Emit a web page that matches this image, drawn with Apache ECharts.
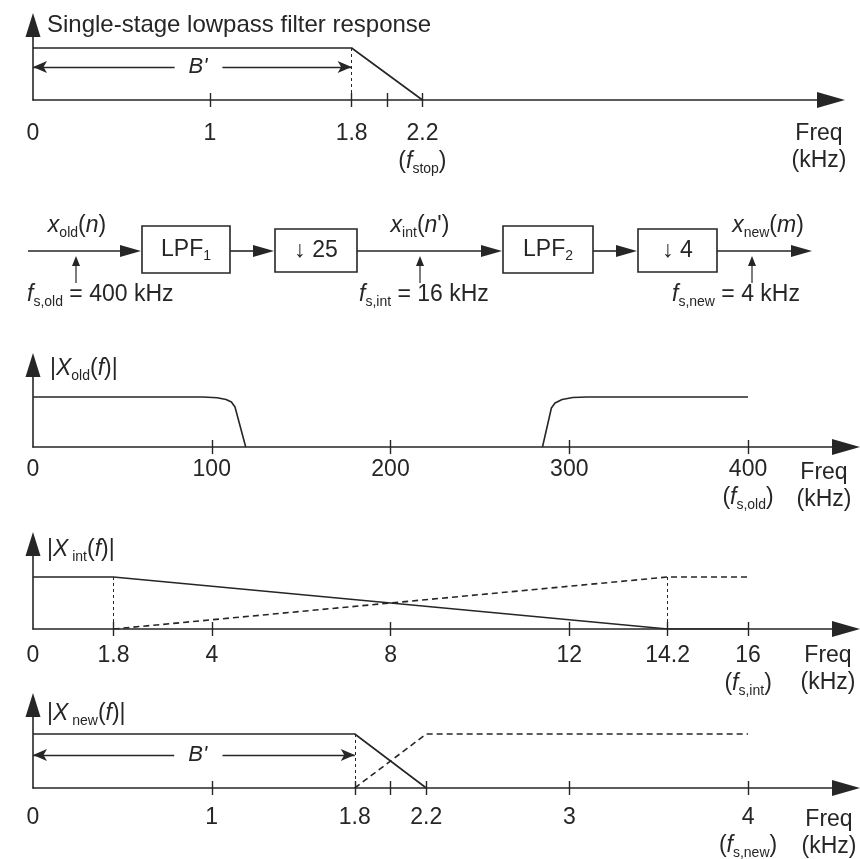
<!DOCTYPE html>
<html>
<head>
<meta charset="utf-8">
<script src="https://cdn.jsdelivr.net/npm/echarts@6/dist/echarts.min.js"></script>
<style>
  html, body { margin: 0; background: #fff; }
  #chart { width: 860px; height: 859px; }
</style>
</head>
<body>
<div id="chart"></div>
<script>
// single-stage lowpass response (kHz)
const respFreq = [0, 1.8, 2.2];
const respGain = [1, 1, 0];
const respTicks = [1, 1.8, 2, 2.2];
const respLabels = [0, 1, 1.8, 2.2];

// |X_old(f)| (kHz)
const oldFreqLow = [0, 95, 103, 108, 111, 113, 119];
const oldGainLow = [1, 1, 0.985, 0.95, 0.9, 0.8, 0];
const oldFreqHigh = [285, 290, 292, 296, 302, 310, 400];
const oldGainHigh = [0, 0.78, 0.88, 0.95, 0.99, 1, 1];
const oldTicks = [100, 200, 300, 400];
const oldLabels = [0, 100, 200, 300, 400];

// |X_int(f)| (kHz)
const intFreqSolid = [0, 1.8, 14.2, 16];
const intGainSolid = [1, 1, 0, 0];
const intFreqDash = [1.8, 14.2, 16];
const intGainDash = [0, 1, 1];
const intTicks = [1.8, 4, 8, 12, 14.2, 16];
const intLabels = [0, 1.8, 4, 8, 12, 14.2, 16];

// |X_new(f)| (kHz)
const newFreqSolid = [0, 1.8, 2.2];
const newGainSolid = [1, 1, 0];
const newFreqDash = [1.8, 2.2, 4];
const newGainDash = [0, 1, 1];
const newTicks = [1, 1.8, 2, 2.2, 3, 4];
const newLabels = [0, 1, 1.8, 2.2, 3, 4];

const ink = '#262626';
const font = "'Liberation Sans', Arial, sans-serif";

const rich = {
  i: { fontStyle: 'italic', fontSize: 23, lineHeight: 28, fontFamily: font, color: ink },
  s: { fontSize: 14, lineHeight: 14, verticalAlign: 'bottom', fontFamily: font, color: ink },
  r: { fontSize: 23, lineHeight: 28, fontFamily: font, color: ink }
};

// layout of the four plots
const panels = [
  { box: [33, 25, 798, 75], xMax: 4.508, yMax: 1.442, ticks: respTicks, labels: respLabels,
    notes: { 2.2: '({i|f}{s|stop})' }, margin: 20, namePad: 20, nameGap: -12 },
  { box: [33, 365, 813, 82], xMax: 454.8, yMax: 1.64, ticks: oldTicks, labels: oldLabels,
    notes: { 400: '({i|f}{s|s,old})' }, margin: 9, namePad: 12, nameGap: -22 },
  { box: [33, 544, 813, 85], xMax: 18.19, yMax: 1.635, ticks: intTicks, labels: intLabels,
    notes: { 16: '({i|f}{s|s,int})' }, margin: 13, namePad: 13, nameGap: -18 },
  { box: [33, 705, 813, 83], xMax: 4.548, yMax: 1.537, ticks: newTicks, labels: newLabels,
    notes: { 4: '({i|f}{s|s,new})' }, margin: 16, namePad: 18, nameGap: -17 }
];

const grids = [], xAxes = [], yAxes = [];
panels.forEach((p, gi) => {
  grids.push({ left: p.box[0], top: p.box[1], width: p.box[2], height: p.box[3],
    containLabel: false, outerBoundsMode: 'none' });
  xAxes.push({
    gridIndex: gi, type: 'value', min: 0, max: p.xMax, position: 'bottom',
    axisLine: { show: true, onZero: false, symbol: ['none', 'triangle'], symbolSize: [16, 28],
      lineStyle: { color: ink, width: 1.6 } },
    axisTick: { show: true, customValues: p.ticks, length: 7, lineStyle: { color: ink, width: 1.4 } },
    axisLabel: {
      show: true, customValues: p.labels, margin: p.margin, fontSize: 23, lineHeight: 28,
      color: ink, fontFamily: font, rich: rich,
      formatter: v => p.notes[v] ? v + '\n' + p.notes[v] : String(v)
    },
    splitLine: { show: false },
    name: 'Freq\n(kHz)', nameLocation: 'end', nameGap: p.nameGap,
    nameTextStyle: { fontSize: 23, lineHeight: 27, color: ink, fontFamily: font,
      align: 'center', verticalAlign: 'top', padding: [p.namePad, 0, 0, 0] }
  });
  // ticks crossing the axis: second axis drawing the inner half
  xAxes.push({
    gridIndex: gi, type: 'value', min: 0, max: p.xMax, position: 'bottom',
    axisLine: { show: false },
    axisTick: { show: true, inside: true, customValues: p.ticks, length: 7, lineStyle: { color: ink, width: 1.4 } },
    axisLabel: { show: false }, splitLine: { show: false }
  });
  yAxes.push({
    gridIndex: gi, type: 'value', min: 0, max: p.yMax,
    axisLine: { show: true, onZero: false, symbol: ['none', 'triangle'], symbolSize: [15, 24],
      lineStyle: { color: ink, width: 1.6 } },
    axisTick: { show: false }, axisLabel: { show: false }, splitLine: { show: false }
  });
});

function curve(gi, xs, ys, dashed, marks) {
  const s = {
    type: 'line', xAxisIndex: gi * 2, yAxisIndex: gi,
    data: xs.map((x, k) => [x, ys[k]]),
    symbol: 'none', silent: true, z: 3,
    lineStyle: { color: ink, width: 1.6, type: dashed ? [6, 4] : 'solid' }
  };
  if (marks) {
    s.markLine = {
      silent: true, symbol: 'none', label: { show: false },
      lineStyle: { color: ink, width: 1.4, type: 'solid' },
      emphasis: { disabled: true },
      data: marks
    };
  }
  return s;
}

function edge(x) {
  return [{ coord: [x, 1], symbol: 'none', lineStyle: { type: [3, 3], width: 1 } },
          { coord: [x, 0], symbol: 'none' }];
}
function bandArrow(y, a, b, end) {
  return [
    [{ coord: [0, y], symbol: 'arrow', symbolSize: [9, 14],
       label: { show: true, position: 'end', distance: 14, formatter: "B'",
                fontStyle: 'italic', fontSize: 22, color: ink, fontFamily: font } },
     { coord: [a, y], symbol: 'none' }],
    [{ coord: [b, y], symbol: 'none' },
     { coord: [end, y], symbol: 'arrow', symbolSize: [9, 14] }]
  ];
}

const series = [
  curve(0, respFreq, respGain, false, [edge(1.8)].concat(bandArrow(0.635, 0.8, 1.07, 1.8))),
  curve(1, oldFreqLow, oldGainLow, false),
  curve(1, oldFreqHigh, oldGainHigh, false),
  curve(2, intFreqSolid, intGainSolid, false, [edge(1.8), edge(14.2)]),
  curve(2, intFreqDash, intGainDash, true),
  curve(3, newFreqSolid, newGainSolid, false, [edge(1.8)].concat(bandArrow(0.611, 0.79, 1.06, 1.8))),
  curve(3, newFreqDash, newGainDash, true)
];

const titleStyle = { fontSize: 23, fontWeight: 'normal', color: ink, fontFamily: font, lineHeight: 28, rich: rich };
const titles = [
  { text: 'Single-stage lowpass filter response', left: 47, top: 11,
    textStyle: Object.assign({}, titleStyle, { fontSize: 24 }) },
  { text: '|{i|X}{s|old}({i|f})|', left: 50, top: 355, textStyle: titleStyle },
  { text: '|{i|X}{s| int}({i|f})|', left: 47, top: 536, textStyle: titleStyle },
  { text: '|{i|X}{s| new}({i|f})|', left: 47, top: 700, textStyle: titleStyle }
].map(t => Object.assign({ padding: 0 }, t));

// block diagram
const lineY = 251;
const stroke = { stroke: ink, lineWidth: 1.6, fill: null };
const blocks = [
  { x: 142, w: 88, tall: true, text: '{r|LPF}{s|1}' },
  { x: 275, w: 82, tall: false, text: '{r|↓ 25}' },
  { x: 503, w: 90, tall: true, text: '{r|LPF}{s|2}' },
  { x: 638, w: 79, tall: false, text: '{r|↓ 4}' }
];
const links = [[28, 141], [230, 274], [357, 502], [593, 637], [717, 812]];
const taps = [
  { x: 76, sig: '{i|x}{s|old}{r|(}{i|n}{r|)}', sigX: 77, rate: '{i|f}{s|s,old}{r| = 400 kHz}', rateX: 27 },
  { x: 420, sig: "{i|x}{s|int}{r|(}{i|n}{r|')}", sigX: 420, rate: '{i|f}{s|s,int}{r| = 16 kHz}', rateX: 359 },
  { x: 752, sig: '{i|x}{s|new}{r|(}{i|m}{r|)}', sigX: 768, rate: '{i|f}{s|s,new}{r| = 4 kHz}', rateX: 672 }
];

const graphic = [];
blocks.forEach(b => {
  const top = b.tall ? 226 : 229, h = b.tall ? 47 : 43;
  graphic.push({ type: 'rect', shape: { x: b.x, y: top, width: b.w, height: h }, style: stroke, silent: true });
  graphic.push({ type: 'text', x: b.x + b.w / 2, y: top + h / 2, silent: true,
    style: { text: b.text, rich: rich, align: 'center', verticalAlign: 'middle', fill: ink } });
});
links.forEach(l => {
  graphic.push({ type: 'line', shape: { x1: l[0], y1: lineY, x2: l[1] - 18, y2: lineY }, style: stroke, silent: true });
  graphic.push({ type: 'polygon', silent: true,
    shape: { points: [[l[1] - 21, lineY - 6], [l[1], lineY], [l[1] - 21, lineY + 6]] },
    style: { fill: ink } });
});
taps.forEach(t => {
  graphic.push({ type: 'line', shape: { x1: t.x, y1: 283, x2: t.x, y2: 264 }, style: { stroke: ink, lineWidth: 1.2 }, silent: true });
  graphic.push({ type: 'polygon', silent: true,
    shape: { points: [[t.x - 4, 266], [t.x, 256], [t.x + 4, 266]] }, style: { fill: ink } });
  graphic.push({ type: 'text', x: t.sigX, y: 226, silent: true,
    style: { text: t.sig, rich: rich, align: 'center', verticalAlign: 'middle', fill: ink } });
  graphic.push({ type: 'text', x: t.rateX, y: 295, silent: true,
    style: { text: t.rate, rich: rich, align: 'left', verticalAlign: 'middle', fill: ink } });
});

const chart = echarts.init(document.getElementById('chart'));
chart.setOption({
  backgroundColor: '#fff',
  animation: false,
  textStyle: { fontFamily: font, color: ink },
  title: titles,
  grid: grids,
  xAxis: xAxes,
  yAxis: yAxes,
  series: series,
  graphic: graphic
});
</script>
</body>
</html>
